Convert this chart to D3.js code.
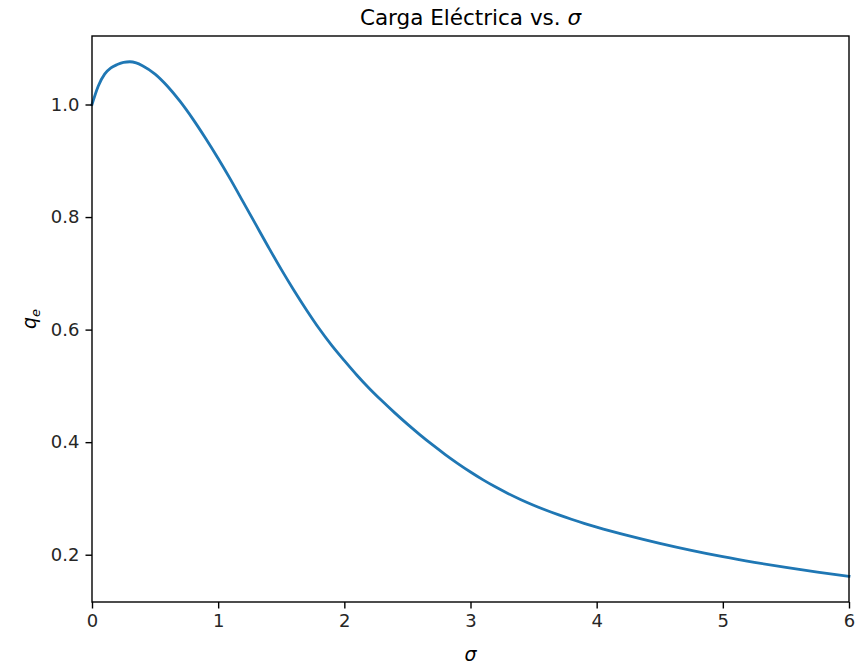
<!DOCTYPE html>
<html>
<head>
<meta charset="utf-8">
<script src="https://cdn.jsdelivr.net/npm/d3@7"></script>
<style>
  html, body { margin: 0; padding: 0; background: #fff; }
  svg { display: block; font-family: "DejaVu Sans", sans-serif; }
</style>
</head>
<body>
<svg id="chart" width="857" height="668"></svg>
<script>
// Electric charge q_e as a function of sigma
const sigma = [0, 0.05, 0.1, 0.15, 0.2, 0.25, 0.3, 0.35, 0.4, 0.5, 0.6, 0.7, 0.8, 0.9, 1.0,
               1.1, 1.2, 1.3, 1.4, 1.5, 1.6, 1.7, 1.8, 1.9, 2.0, 2.1, 2.2, 2.3, 2.4, 2.5,
               2.6, 2.7, 2.8, 2.9, 3.0, 3.1, 3.2, 3.3, 3.4, 3.5, 3.6, 3.7, 3.8, 3.9, 4.0,
               4.25, 4.5, 4.75, 5.0, 5.25, 5.5, 5.75, 6.0];
const charge = [1.000, 1.033, 1.054, 1.065, 1.071, 1.075, 1.076, 1.074, 1.069, 1.054, 1.032, 1.005, 0.974, 0.940, 0.904,
                0.866, 0.826, 0.786, 0.746, 0.707, 0.670, 0.635, 0.602, 0.572, 0.545, 0.519, 0.495, 0.473, 0.452, 0.432,
                0.413, 0.395, 0.378, 0.362, 0.347, 0.333, 0.3202, 0.3085, 0.2978, 0.288, 0.279, 0.2707, 0.263, 0.2558, 0.2491,
                0.2339, 0.2202, 0.2077, 0.1964, 0.1864, 0.1774, 0.1692, 0.1617];
const xTicks = [0, 1, 2, 3, 4, 5, 6];
const yTicks = [0.2, 0.4, 0.6, 0.8, 1.0];

const W = 857, H = 668;
const m = { top: 36, right: 8, bottom: 66, left: 92 };

const svg = d3.select("#chart");

const x = d3.scaleLinear().domain([0, 6]).range([m.left, W - m.right]);
const yMin = d3.min(charge), yMax = d3.max(charge), span = yMax - yMin;
const y = d3.scaleLinear()
  .domain([yMin - 0.05 * span, yMax + 0.05 * span])
  .range([H - m.bottom, m.top]);

// curve
const pts = sigma.map((s, i) => [s, charge[i]]);
svg.append("path")
  .datum(pts)
  .attr("fill", "none")
  .attr("stroke", "#1f77b4")
  .attr("stroke-width", 2.8)
  .attr("stroke-linecap", "square")
  .attr("d", d3.line().x(d => x(d[0])).y(d => y(d[1])).curve(d3.curveMonotoneX));

// axes
const tickFont = 18;
const xAxis = svg.append("g")
  .attr("transform", `translate(0,${H - m.bottom})`)
  .call(d3.axisBottom(x).tickValues(xTicks).tickFormat(d3.format("d")).tickSize(6.5).tickPadding(6));
const yAxis = svg.append("g")
  .attr("transform", `translate(${m.left},0)`)
  .call(d3.axisLeft(y).tickValues(yTicks).tickFormat(d3.format(".1f")).tickSize(6.5).tickPadding(6));

[xAxis, yAxis].forEach(g => {
  g.select(".domain").remove();
  g.selectAll(".tick line").attr("stroke", "#000").attr("stroke-width", 1.4);
  g.selectAll(".tick text").attr("fill", "#262626").attr("font-size", tickFont)
    .attr("font-family", "DejaVu Sans, sans-serif");
});

// frame
svg.append("rect")
  .attr("x", m.left).attr("y", m.top)
  .attr("width", W - m.left - m.right).attr("height", H - m.top - m.bottom)
  .attr("fill", "none").attr("stroke", "#000").attr("stroke-width", 1.4);

// title
const title = svg.append("text")
  .attr("x", (m.left + W - m.right) / 2).attr("y", 25)
  .attr("text-anchor", "middle").attr("font-size", 21.5).attr("fill", "#000");
title.append("tspan").text("Carga Eléctrica vs. ");
title.append("tspan").attr("font-style", "italic").text("σ");

// x label
svg.append("text")
  .attr("x", (m.left + W - m.right) / 2).attr("y", 661)
  .attr("text-anchor", "middle").attr("font-size", 19).attr("font-style", "italic")
  .attr("fill", "#000").text("σ");

// y label
const yl = svg.append("text")
  .attr("transform", `translate(36,${(m.top + H - m.bottom) / 2}) rotate(-90)`)
  .attr("text-anchor", "middle").attr("font-size", 19).attr("fill", "#000");
yl.append("tspan").attr("font-style", "italic").text("q");
yl.append("tspan").attr("font-style", "italic").attr("font-size", 13).attr("dy", 4).text("e");
</script>
</body>
</html>
